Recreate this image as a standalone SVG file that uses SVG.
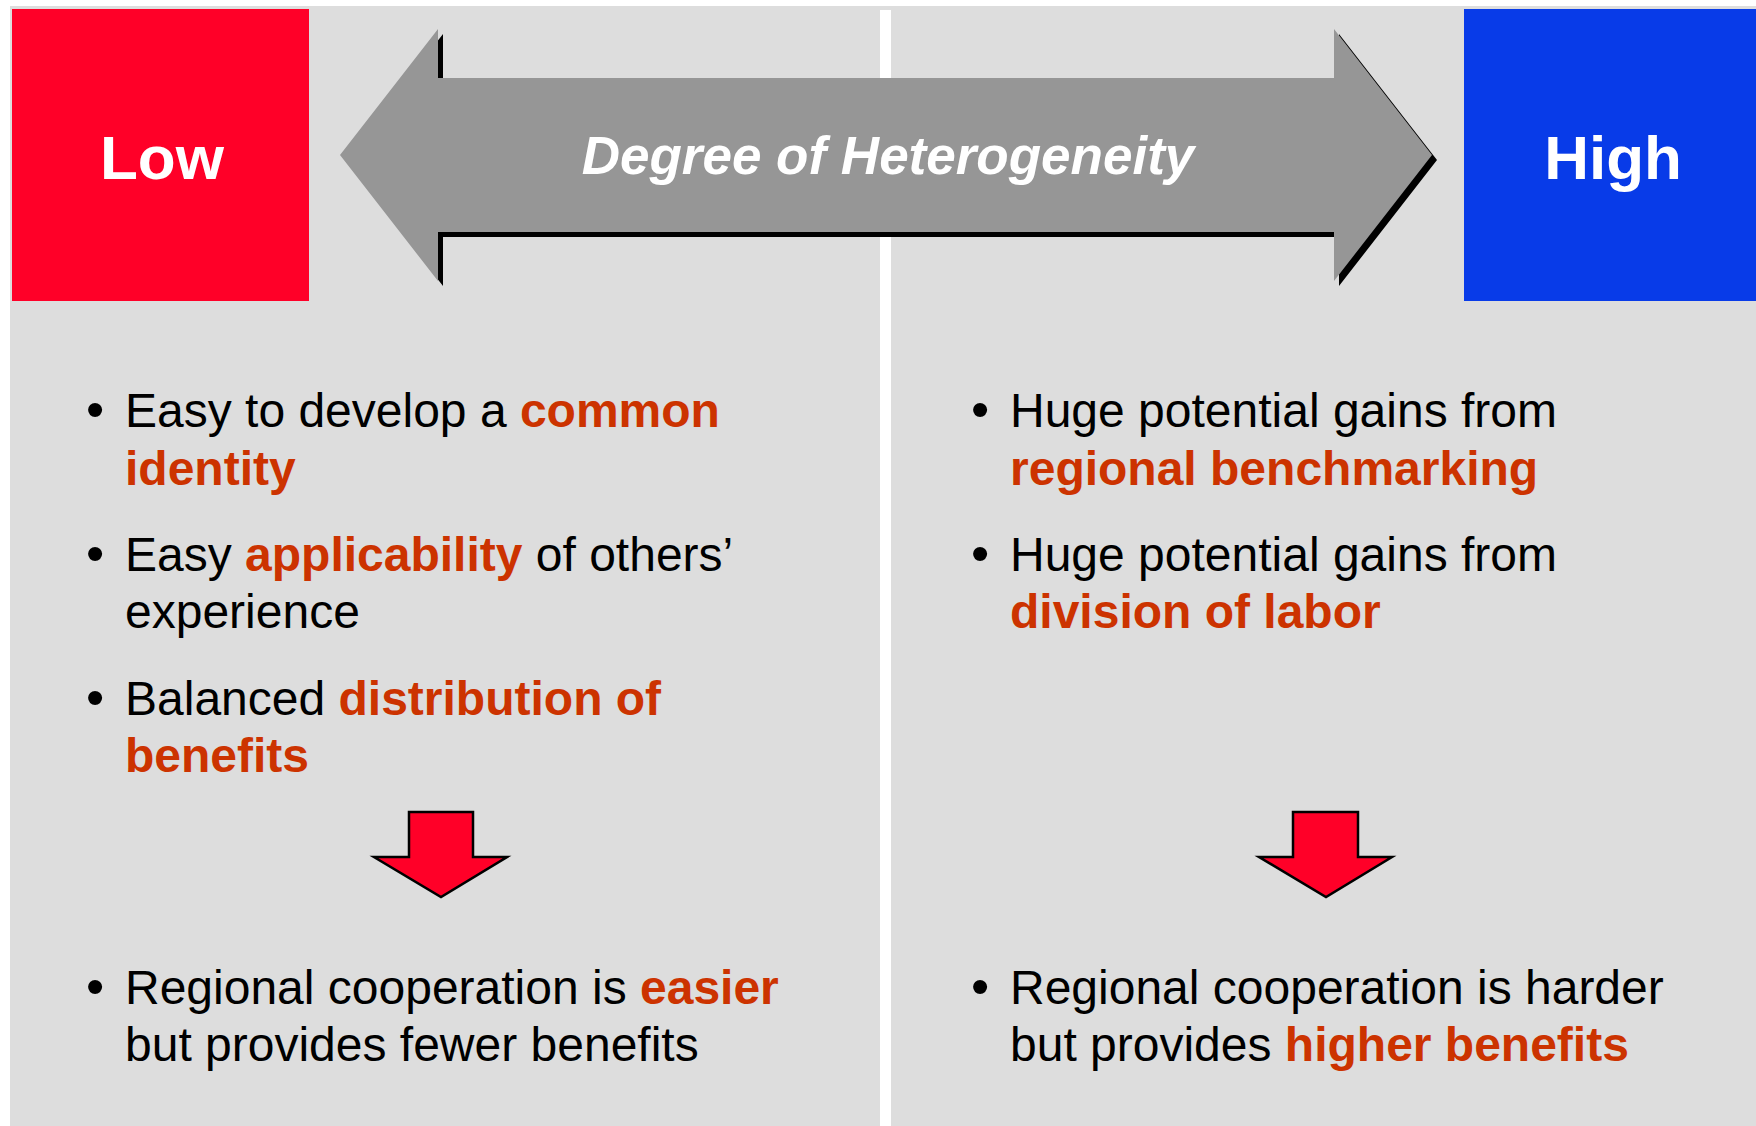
<svg xmlns="http://www.w3.org/2000/svg" width="1756" height="1126" viewBox="0 0 1756 1126">
  <style>
    .panel { fill: #dddddd; }
    .divider { fill: #ffffff; }
    .endlabel { font-family: "Liberation Sans", Arial, sans-serif; font-weight: bold; font-size: 62px; fill: #ffffff; text-anchor: middle; }
    .scale { fill: #969696; }
    .scale-shadow { fill: #000000; }
    .scale-label { font-family: "Liberation Sans", Arial, sans-serif; font-weight: bold; font-style: italic; font-size: 53px; fill: #ffffff; text-anchor: middle; }
    .body { font-family: "Liberation Sans", Arial, sans-serif; font-size: 48px; fill: #000000; }
    .bullet { font-size: 52px; }
    .hl { font-weight: bold; fill: #cc3300; }
    .down { fill: #ff0028; stroke: #000000; stroke-width: 2.5; stroke-linejoin: miter; }
  </style>

  <!-- background panel and centre divider -->
  <rect class="panel" x="10" y="6" width="1746" height="1120"/>
  <rect class="divider" x="880" y="10" width="11" height="1116"/>

  <!-- end labels -->
  <g id="low">
    <rect x="12" y="9" width="297" height="292" fill="#ff0028"/>
    <text class="endlabel" x="162" y="179">Low</text>
  </g>
  <g id="high">
    <rect x="1464" y="9" width="292" height="292" fill="#083be8"/>
    <text class="endlabel" x="1613" y="179">High</text>
  </g>

  <!-- double-headed scale arrow -->
  <g id="scale">
    <polygon class="scale-shadow" transform="translate(5,5)" points="340,155 438,29 438,78 1334,78 1334,29 1432,155 1334,281 1334,232 438,232 438,281"/>
    <polygon class="scale" points="340,155 438,29 438,78 1334,78 1334,29 1432,155 1334,281 1334,232 438,232 438,281"/>
    <text class="scale-label" x="888" y="174">Degree of Heterogeneity</text>
  </g>

  <!-- low heterogeneity column -->
  <g id="low-points" class="body">
    <text class="bullet" x="86" y="427">•</text>
    <text x="125" y="427">Easy to develop a <tspan class="hl">common</tspan></text>
    <text x="125" y="485" class="hl">identity</text>
    <text class="bullet" x="86" y="571">•</text>
    <text x="125" y="571">Easy <tspan class="hl">applicability</tspan> of others’</text>
    <text x="125" y="628">experience</text>
    <text class="bullet" x="86" y="715">•</text>
    <text x="125" y="715">Balanced <tspan class="hl">distribution of</tspan></text>
    <text x="125" y="772" class="hl">benefits</text>
  </g>
  <g id="low-outcome" class="body">
    <text class="bullet" x="86" y="1004">•</text>
    <text x="125" y="1004">Regional cooperation is <tspan class="hl">easier</tspan></text>
    <text x="125" y="1061">but provides fewer benefits</text>
  </g>

  <!-- high heterogeneity column -->
  <g id="high-points" class="body">
    <text class="bullet" x="971" y="427">•</text>
    <text x="1010" y="427">Huge potential gains from</text>
    <text x="1010" y="485" class="hl">regional benchmarking</text>
    <text class="bullet" x="971" y="571">•</text>
    <text x="1010" y="571">Huge potential gains from</text>
    <text x="1010" y="628" class="hl">division of labor</text>
  </g>
  <g id="high-outcome" class="body">
    <text class="bullet" x="971" y="1004">•</text>
    <text x="1010" y="1004">Regional cooperation is harder</text>
    <text x="1010" y="1061">but provides <tspan class="hl">higher benefits</tspan></text>
  </g>

  <!-- downward arrows leading to the outcomes -->
  <g id="connectors">
    <polygon class="down" points="409,812 473,812 473,857 507,857 441,897 374,857 409,857"/>
    <polygon class="down" points="1293,812 1358,812 1358,857 1392,857 1326,897 1259,857 1293,857"/>
  </g>
</svg>
